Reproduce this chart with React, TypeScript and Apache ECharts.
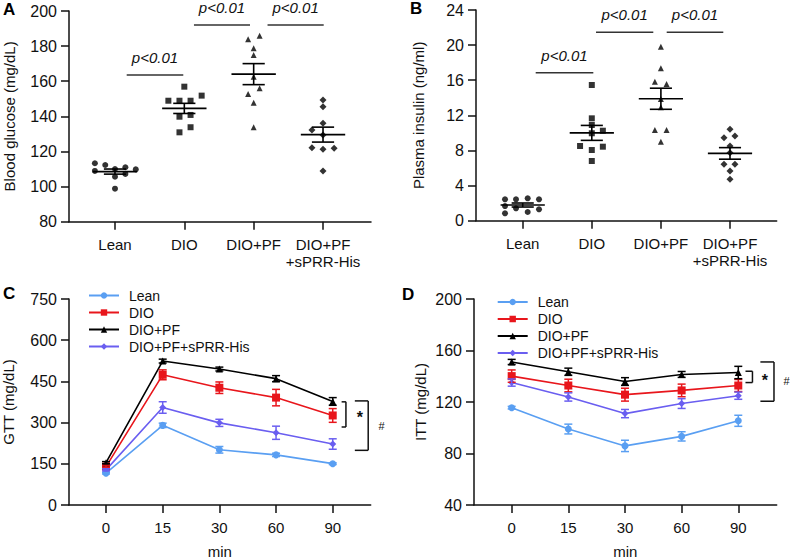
import React, { useEffect, useRef } from "react";
import * as echarts from "echarts";

const FONT = '"Liberation Sans", Arial, Helvetica, sans-serif';

const groupLabels = ["Lean", "DIO", "DIO+PF", "DIO+PF\n+sPRR-His"];
const seriesNames = ["Lean", "DIO", "DIO+PF", "DIO+PF+sPRR-His"];
const timeLabels = ["0", "15", "30", "60", "90"];
const seriesColors = ["#5a9ff2", "#e8161c", "#000000", "#6a5ef0"];
const seriesSymbols = ["circle", "rect", "triangle", "diamond"];
const scatterSymbols = ["circle", "rect", "triangle", "diamond"];

// Panel A: blood glucose (mg/dL), individual animals
const glucoseLean = [113.3, 112.3, 108.9, 110.0, 111.0, 109.8, 107.2, 105.6, 98.8];
const glucoseDIO = [156.9, 148.9, 148.9, 148.9, 151.8, 139.8, 140.8, 130.9, 133.8];
const glucosePF = [185.9, 183.9, 178.8, 174.9, 162.6, 152.7, 156.0, 147.8, 133.8];
const glucoseHis = [149.3, 145.5, 136.0, 132.2, 129.4, 122.1, 121.2, 121.8, 108.9];
// horizontal jitter of the dots (in group units)
const glucoseLeanJit = [-0.29, -0.14, -0.29, 0, 0.15, 0.3, 0.15, 0, 0];
const glucoseDIOJit = [0, -0.23, -0.07, 0.09, 0.25, -0.07, 0.09, -0.07, 0.09];
const glucosePFJit = [0.086, -0.08, 0, 0, 0, -0.08, 0.086, 0, 0];
const glucoseHisJit = [0, 0, 0, -0.16, 0, -0.16, 0, 0.16, 0];

// Panel B: plasma insulin (ng/ml)
const insulinLean = [2.44, 2.44, 2.55, 2.44, 1.67, 1.41, 1.3, 0.84, 0.99];
const insulinDIO = [15.46, 11.66, 10.9, 10.25, 9.96, 8.51, 8.43, 8.05, 6.8];
const insulinPF = [19.82, 17.36, 15.83, 15.57, 13.86, 12.92, 10.33, 10.33, 9.0];
const insulinHis = [10.41, 9.45, 9.65, 8.51, 7.75, 6.42, 6.42, 5.66, 4.72];
const insulinLeanJit = [-0.256, -0.097, 0.072, 0.236, -0.256, -0.097, 0.236, -0.256, 0.072];
const insulinDIOJit = [0, 0, 0, 0.16, 0, -0.17, 0.16, 0, 0];
const insulinPFJit = [0, 0, -0.087, 0.082, 0, 0, -0.087, 0.082, 0];
const insulinHisJit = [0, -0.087, 0.072, 0, 0, -0.087, 0.072, 0, 0];

// p-value annotations: [x start, x end, line y, text y]
const pText = "p<0.01";
const glucosePLines = [
  [0.169, 0.985, 163.5, 172.7],
  [1.139, 1.947, 192, 201.7],
  [2.2, 3.01, 192, 201.7],
];
const insulinPLines = [
  [0.188, 1.022, 16.86, 18.68],
  [1.061, 1.89, 21.46, 23.32],
  [2.084, 2.903, 21.46, 23.32],
];

// Panel C: GTT (mg/dL) means and SEM
const gttLean = [116, 290, 201, 182.5, 150.5];
const gttLeanErr = [3, 8, 12, 6, 3];
const gttDIO = [140, 474, 427, 391, 326];
const gttDIOErr = [5, 18, 21, 30, 25];
const gttPF = [154, 524, 495, 460, 377];
const gttPFErr = [4, 7, 7, 11, 14];
const gttHis = [128, 355, 299, 263, 222];
const gttHisErr = [4, 21, 13, 24, 19];

// Panel D: ITT (mg/dL) means and SEM
const ittLean = [115.6, 99.0, 85.9, 93.3, 105.4];
const ittLeanErr = [1, 3.8, 4.4, 3.6, 4.3];
const ittDIO = [140.1, 132.8, 125.7, 129, 132.8];
const ittDIOErr = [4.8, 4.9, 5, 4.9, 4.7];
const ittPF = [151.1, 143.5, 135.9, 141.4, 142.9];
const ittPFErr = [2, 2.8, 3, 2.3, 4.8];
const ittHis = [135.1, 123.9, 111, 118.8, 124.9];
const ittHisErr = [2.8, 3.2, 3.2, 3.8, 2.8];

// significance brackets: [x tick start, x vertical, top, bottom]
const gttBrackets = [
  [4.157, 4.233, 375.6, 284],
  [4.39, 4.626, 379, 199],
];
const gttMarks = [
  [4.48, 318],
  [4.86, 288],
];
const ittBrackets = [
  [4.127, 4.25, 143.9, 135.1],
  [4.39, 4.63, 151.1, 120.6],
];
const ittMarks = [
  [4.467, 136.5],
  [4.85, 136.6],
];
const markTexts = ["*", "#"];

function meanSem(arr: number[]) {
  const n = arr.length;
  const m = arr.reduce((a, b) => a + b, 0) / n;
  const sd = Math.sqrt(arr.reduce((a, b) => a + (b - m) * (b - m), 0) / (n - 1));
  return [m, sd / Math.sqrt(n)];
}

const AXIS_COLOR = "#111";

function xAxisDef(gridIndex: number, min: number, max: number, labels: string[], labelSize: number) {
  const vals = labels.map((_, i) => i);
  return {
    type: "value",
    gridIndex,
    min,
    max,
    axisLine: { show: true, onZero: false, lineStyle: { color: AXIS_COLOR, width: 1.5 } },
    axisTick: { show: true, customValues: vals, length: 8, lineStyle: { color: AXIS_COLOR, width: 1.5 } },
    axisLabel: {
      customValues: vals,
      formatter: (v: number) => labels[Math.round(v)] ?? "",
      fontSize: labelSize,
      fontFamily: FONT,
      color: "#111",
      margin: 14,
      lineHeight: 17,
    },
    splitLine: { show: false },
  };
}

function yAxisDef(gridIndex: number, min: number, max: number, interval: number, name: string, nameGap: number) {
  return {
    type: "value",
    gridIndex,
    min,
    max,
    interval,
    name,
    nameLocation: "middle",
    nameGap,
    nameTextStyle: { fontSize: 15, fontFamily: FONT, color: "#111" },
    axisLine: { show: true, onZero: false, lineStyle: { color: AXIS_COLOR, width: 1.5 } },
    axisTick: { show: true, length: 8, lineStyle: { color: AXIS_COLOR, width: 1.5 } },
    axisLabel: { fontSize: 16, fontFamily: FONT, color: "#111", margin: 12 },
    splitLine: { show: false },
  };
}

function scatterSeries(idx: number, groups: number[][], jits: number[][]) {
  return groups.map((vals, g) => ({
    type: "scatter",
    name: `s${idx}-${g}`,
    xAxisIndex: idx,
    yAxisIndex: idx,
    symbol: scatterSymbols[g],
    symbolSize: g === 3 ? 7 : 6,
    itemStyle: { color: "#000" },
    data: vals.map((v, k) => [g + jits[g][k], v]),
    z: 3,
  }));
}

function meanSemSeries(idx: number, groups: number[][]) {
  return {
    type: "custom",
    name: `ms${idx}`,
    xAxisIndex: idx,
    yAxisIndex: idx,
    z: 4,
    data: groups.map((vals, g) => {
      const [m, s] = meanSem(vals);
      return [g, m, s];
    }),
    renderItem: (params: any, api: any) => {
      const x = api.value(0);
      const m = api.value(1);
      const s = api.value(2);
      const st = { stroke: "#000", lineWidth: 1.6 };
      const a = api.coord([x - 0.32, m]);
      const b = api.coord([x + 0.32, m]);
      const t1 = api.coord([x - 0.16, m + s]);
      const t2 = api.coord([x + 0.16, m + s]);
      const b1 = api.coord([x - 0.16, m - s]);
      const b2 = api.coord([x + 0.16, m - s]);
      const c = api.coord([x, m]);
      return {
        type: "group",
        children: [
          { type: "line", shape: { x1: a[0], y1: a[1], x2: b[0], y2: b[1] }, style: st },
          { type: "line", shape: { x1: t1[0], y1: t1[1], x2: t2[0], y2: t2[1] }, style: st },
          { type: "line", shape: { x1: b1[0], y1: b1[1], x2: b2[0], y2: b2[1] }, style: st },
          { type: "line", shape: { x1: c[0], y1: t1[1], x2: c[0], y2: b1[1] }, style: st },
        ],
      };
    },
  };
}

function pLineSeries(idx: number, rows: number[][]) {
  return {
    type: "custom",
    name: `p${idx}`,
    xAxisIndex: idx,
    yAxisIndex: idx,
    clip: false,
    z: 5,
    data: rows,
    renderItem: (params: any, api: any) => {
      const p1 = api.coord([api.value(0), api.value(2)]);
      const p2 = api.coord([api.value(1), api.value(2)]);
      const tp = api.coord([(api.value(0) + api.value(1)) / 2, api.value(3)]);
      return {
        type: "group",
        children: [
          { type: "line", shape: { x1: p1[0], y1: p1[1], x2: p2[0], y2: p2[1] }, style: { stroke: "#333", lineWidth: 1.5 } },
          {
            type: "text",
            style: {
              text: pText,
              x: tp[0],
              y: tp[1] - 1,
              align: "center",
              verticalAlign: "middle",
              font: `italic 15px ${FONT}`,
              fill: "#111",
            },
          },
        ],
      };
    },
  };
}

function lineSeries(idx: number, means: number[][], errs: number[][]) {
  const out: any[] = [];
  means.forEach((vals, g) => {
    out.push({
      type: "line",
      name: seriesNames[g],
      xAxisIndex: idx,
      yAxisIndex: idx,
      symbol: seriesSymbols[g],
      symbolSize: g === 1 ? 8 : 7,
      showAllSymbol: true,
      itemStyle: { color: seriesColors[g] },
      lineStyle: { color: seriesColors[g], width: 1.6 },
      data: vals.map((v, i) => [i, v]),
      z: 3 + (g === 2 ? 0.5 : 0),
    });
    out.push({
      type: "custom",
      name: `err${idx}-${g}`,
      xAxisIndex: idx,
      yAxisIndex: idx,
      z: 4,
      data: vals.map((v, i) => [i, v, errs[g][i]]),
      renderItem: (params: any, api: any) => {
        const x = api.value(0);
        const m = api.value(1);
        const e = api.value(2);
        const top = api.coord([x, m + e]);
        const bot = api.coord([x, m - e]);
        const st = { stroke: seriesColors[g], lineWidth: 1.5 };
        return {
          type: "group",
          children: [
            { type: "line", shape: { x1: top[0], y1: top[1], x2: bot[0], y2: bot[1] }, style: st },
            { type: "line", shape: { x1: top[0] - 4, y1: top[1], x2: top[0] + 4, y2: top[1] }, style: st },
            { type: "line", shape: { x1: bot[0] - 4, y1: bot[1], x2: bot[0] + 4, y2: bot[1] }, style: st },
          ],
        };
      },
    });
  });
  return out;
}

function bracketSeries(idx: number, rows: number[][], marks: number[][]) {
  return [
    {
      type: "custom",
      name: `br${idx}`,
      xAxisIndex: idx,
      yAxisIndex: idx,
      clip: false,
      z: 5,
      data: rows,
      renderItem: (params: any, api: any) => {
        const a = api.coord([api.value(0), api.value(2)]);
        const b = api.coord([api.value(1), api.value(2)]);
        const c = api.coord([api.value(0), api.value(3)]);
        const d = api.coord([api.value(1), api.value(3)]);
        const st = { stroke: "#111", lineWidth: 1.5 };
        return {
          type: "group",
          children: [
            { type: "line", shape: { x1: a[0], y1: a[1], x2: b[0], y2: b[1] }, style: st },
            { type: "line", shape: { x1: b[0], y1: b[1], x2: d[0], y2: d[1] }, style: st },
            { type: "line", shape: { x1: d[0], y1: d[1], x2: c[0], y2: c[1] }, style: st },
          ],
        };
      },
    },
    {
      type: "custom",
      name: `bm${idx}`,
      xAxisIndex: idx,
      yAxisIndex: idx,
      clip: false,
      z: 5,
      data: marks,
      renderItem: (params: any, api: any) => {
        const p = api.coord([api.value(0), api.value(1)]);
        const t = markTexts[params.dataIndex];
        return {
          type: "text",
          style: {
            text: t,
            x: p[0],
            y: p[1],
            align: "center",
            verticalAlign: "middle",
            font: t === "*" ? `bold 16px ${FONT}` : `11px ${FONT}`,
            fill: "#111",
          },
        };
      },
    },
  ];
}

function legendDef(left: number, top: number) {
  return {
    data: seriesNames,
    orient: "vertical",
    left,
    top,
    itemWidth: 30,
    itemHeight: 8,
    itemGap: 3,
    selectedMode: false,
    textStyle: { fontSize: 14, fontFamily: FONT, color: "#111", padding: [0, 0, 0, 5], lineHeight: 14 },
  };
}

export default function App() {
  const ref = useRef<HTMLDivElement>(null);
  useEffect(() => {
    if (!ref.current) return;
    const chart = echarts.init(ref.current, undefined, { renderer: "svg" });
    const xName = { name: "min", nameLocation: "middle", nameGap: 39, nameTextStyle: { fontSize: 15, fontFamily: FONT, color: "#111" } };
    const option: any = {
      animation: false,
      backgroundColor: "#fff",
      textStyle: { fontFamily: FONT },
      grid: [
        { left: 69, top: 11, width: 302, height: 210.7 },
        { left: 476, top: 10, width: 300.7, height: 210.7 },
        { left: 69, top: 299, width: 301.7, height: 211 },
        { left: 474, top: 299, width: 302.7, height: 210.3 },
      ],
      xAxis: [
        xAxisDef(0, -0.663, 3.692, groupLabels, 15),
        xAxisDef(1, -0.676, 3.676, groupLabels, 15),
        { ...xAxisDef(2, -0.653, 4.67, timeLabels, 15), ...xName },
        { ...xAxisDef(3, -0.665, 4.678, timeLabels, 15), ...xName },
      ],
      yAxis: [
        yAxisDef(0, 80, 200, 20, "Blood glucose (mg/dL)", 52),
        yAxisDef(1, 0, 24, 4, "Plasma insulin (ng/ml)", 50),
        yAxisDef(2, 0, 750, 150, "GTT (mg/dL)", 53),
        yAxisDef(3, 40, 200, 40, "ITT (mg/dL)", 46),
      ],
      legend: [legendDef(83, 283.5), legendDef(491.7, 290)],
      graphic: [
        { type: "text", left: 3, top: 1, style: { text: "A", font: `bold 17px ${FONT}`, fill: "#000" } },
        { type: "text", left: 410, top: 0, style: { text: "B", font: `bold 17px ${FONT}`, fill: "#000" } },
        { type: "text", left: 3, top: 285, style: { text: "C", font: `bold 17px ${FONT}`, fill: "#000" } },
        { type: "text", left: 402, top: 286, style: { text: "D", font: `bold 17px ${FONT}`, fill: "#000" } },
      ],
      series: [
        ...scatterSeries(0, [glucoseLean, glucoseDIO, glucosePF, glucoseHis], [glucoseLeanJit, glucoseDIOJit, glucosePFJit, glucoseHisJit]),
        meanSemSeries(0, [glucoseLean, glucoseDIO, glucosePF, glucoseHis]),
        pLineSeries(0, glucosePLines),
        ...scatterSeries(1, [insulinLean, insulinDIO, insulinPF, insulinHis], [insulinLeanJit, insulinDIOJit, insulinPFJit, insulinHisJit]),
        meanSemSeries(1, [insulinLean, insulinDIO, insulinPF, insulinHis]),
        pLineSeries(1, insulinPLines),
        ...lineSeries(2, [gttLean, gttDIO, gttPF, gttHis], [gttLeanErr, gttDIOErr, gttPFErr, gttHisErr]),
        ...bracketSeries(2, gttBrackets, gttMarks),
        ...lineSeries(3, [ittLean, ittDIO, ittPF, ittHis], [ittLeanErr, ittDIOErr, ittPFErr, ittHisErr]),
        ...bracketSeries(3, ittBrackets, ittMarks),
      ],
    };
    chart.setOption(option);
    return () => chart.dispose();
  }, []);
  return <div ref={ref} style={{ position: "absolute", left: 0, top: 0, width: 790, height: 560 }} />;
}
